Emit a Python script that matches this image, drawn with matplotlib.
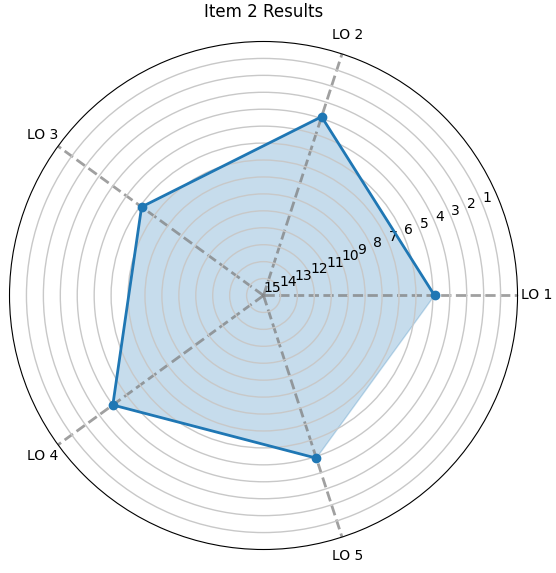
import numpy as np
import matplotlib
matplotlib.use("Agg")
import matplotlib.pyplot as plt

labels = ["LO 1", "LO 2", "LO 3", "LO 4", "LO 5"]
values = [4.9, 3.9, 6.1, 4.0, 4.9]
rank_ticks = list(range(1, 16))
title = "Item 2 Results"


def plot_radar(labels, values):
    angles = np.linspace(0, 2 * np.pi, len(labels), endpoint=False)

    fig = plt.figure(figsize=(5.56, 5.73), dpi=100)
    ax = fig.add_axes([0.0171, 0.041, 0.9137, 0.8866], projection="polar")

    ax.plot(angles, values, "o-", linewidth=2, color="C0")
    ax.fill(angles, values, alpha=0.25, color="C0")

    # rank 1 is best, so the radial axis is flipped
    ax.set_ylim(15, 0)
    ax.set_yticks(rank_ticks)
    ax.set_yticklabels([str(t) for t in rank_ticks])
    ax.set_xticks(angles)
    ax.set_xticklabels(labels)

    ax.yaxis.grid(True, color="#c8c8c8", linewidth=1)
    ax.xaxis.grid(True, color="grey", linestyle="--", linewidth=2, alpha=0.75)

    ax.set_title(title, pad=8)
    fig.savefig("out.png", dpi=100)


if __name__ == '__main__':
    plot_radar(labels, values)
